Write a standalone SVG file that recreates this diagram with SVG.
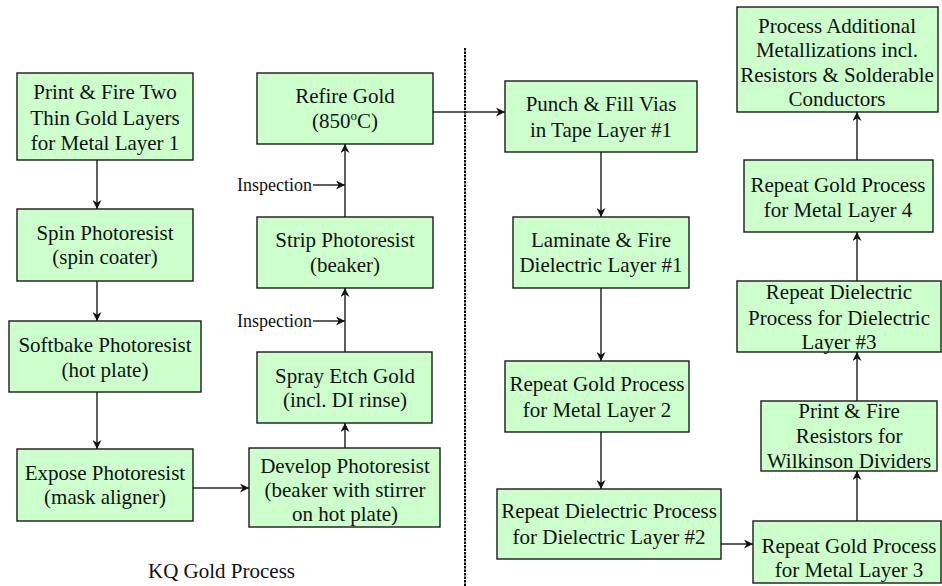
<svg xmlns="http://www.w3.org/2000/svg" width="942" height="586" viewBox="0 0 942 586">
<defs>
<style>
.box{fill:#ccffcc;stroke:#1a1a1a;stroke-width:1.4}
.t{font-family:"Liberation Serif",Tinos,"Times New Roman",Times,"Nimbus Roman","DejaVu Serif",serif;font-size:21px;fill:#111;text-anchor:middle}
.insp{font-family:"Liberation Serif",Tinos,"Times New Roman",Times,"Nimbus Roman","DejaVu Serif",serif;font-size:18px;fill:#111;text-anchor:end}
.ttl{font-family:"Liberation Serif",Tinos,"Times New Roman",Times,"Nimbus Roman","DejaVu Serif",serif;font-size:21px;fill:#111}
.c{fill:none;stroke:#2a2a2a;stroke-width:1.5}
</style>
<marker id="ah" viewBox="0 0 10 10" refX="10" refY="5" markerWidth="9" markerHeight="9" markerUnits="userSpaceOnUse" orient="auto">
<path d="M0,0 L10,5 L0,10 L3,5 z" fill="#111"/>
</marker>
</defs>
<rect width="942" height="586" fill="#fff"/>
<line x1="465" y1="48" x2="465" y2="586" stroke="#000" stroke-width="2" stroke-dasharray="2.5,1"/>
<g id="connectors">
<line class="c" x1="97" y1="160" x2="97" y2="209" marker-end="url(#ah)"/>
<line class="c" x1="97" y1="281" x2="97" y2="321" marker-end="url(#ah)"/>
<line class="c" x1="97" y1="392" x2="97" y2="449" marker-end="url(#ah)"/>
<line class="c" x1="193" y1="488" x2="249" y2="488" marker-end="url(#ah)"/>
<line class="c" x1="345" y1="448" x2="345" y2="423" marker-end="url(#ah)"/>
<line class="c" x1="345" y1="352" x2="345" y2="288" marker-end="url(#ah)"/>
<line class="c" x1="345" y1="217" x2="345" y2="144" marker-end="url(#ah)"/>
<line class="c" x1="313" y1="185" x2="345" y2="185" marker-end="url(#ah)"/>
<line class="c" x1="313" y1="321" x2="345" y2="321" marker-end="url(#ah)"/>
<line class="c" x1="433" y1="112" x2="505" y2="112" marker-end="url(#ah)"/>
<line class="c" x1="601" y1="152" x2="601" y2="217" marker-end="url(#ah)"/>
<line class="c" x1="601" y1="288" x2="601" y2="361" marker-end="url(#ah)"/>
<line class="c" x1="601" y1="432" x2="601" y2="489" marker-end="url(#ah)"/>
<line class="c" x1="721" y1="544" x2="753" y2="544" marker-end="url(#ah)"/>
<line class="c" x1="857" y1="521" x2="857" y2="471" marker-end="url(#ah)"/>
<line class="c" x1="857" y1="401" x2="857" y2="352" marker-end="url(#ah)"/>
<line class="c" x1="857" y1="281" x2="857" y2="232" marker-end="url(#ah)"/>
<line class="c" x1="857" y1="160" x2="857" y2="112" marker-end="url(#ah)"/>
</g>
<g id="insp1"><text class="insp" x="312" y="191">Inspection</text></g>
<g id="insp2"><text class="insp" x="312" y="327">Inspection</text></g>
<g id="n1"><rect class="box" x="17" y="73" width="176" height="87"/>
<text class="t" x="105" y="99">Print &amp; Fire Two</text><text class="t" x="105" y="125">Thin Gold Layers</text><text class="t" x="105" y="150">for Metal Layer 1</text></g>
<g id="n2"><rect class="box" x="17" y="209" width="176" height="72"/>
<text class="t" x="105" y="240">Spin Photoresist</text><text class="t" x="105" y="264">(spin coater)</text></g>
<g id="n3"><rect class="box" x="9" y="321" width="192" height="71"/>
<text class="t" x="105" y="352">Softbake Photoresist</text><text class="t" x="105" y="377">(hot plate)</text></g>
<g id="n4"><rect class="box" x="17" y="449" width="176" height="72"/>
<text class="t" x="105" y="480">Expose Photoresist</text><text class="t" x="105" y="504">(mask aligner)</text></g>
<g id="n5"><rect class="box" x="249" y="448" width="191" height="79"/>
<text class="t" x="345" y="473">Develop Photoresist</text><text class="t" x="345" y="497">(beaker with stirrer</text><text class="t" x="345" y="521">on hot plate)</text></g>
<g id="n6"><rect class="box" x="257" y="352" width="175" height="71"/>
<text class="t" x="345" y="383">Spray Etch Gold</text><text class="t" x="345" y="407">(incl. DI rinse)</text></g>
<g id="n7"><rect class="box" x="257" y="217" width="176" height="71"/>
<text class="t" x="345" y="247">Strip Photoresist</text><text class="t" x="345" y="272">(beaker)</text></g>
<g id="n8"><rect class="box" x="257" y="73" width="176" height="71"/>
<text class="t" x="345" y="103">Refire Gold</text><text class="t" x="345" y="128">(850<tspan font-size="13" dy="-8">o</tspan><tspan dy="8">C)</tspan></text></g>
<g id="title"><text class="ttl" x="148" y="578">KQ Gold Process</text></g>
<g id="n9"><rect class="box" x="505" y="81" width="192" height="71"/>
<text class="t" x="601" y="111">Punch &amp; Fill Vias</text><text class="t" x="601" y="137">in Tape Layer #1</text></g>
<g id="n10"><rect class="box" x="513" y="217" width="176" height="71"/>
<text class="t" x="601" y="247">Laminate &amp; Fire</text><text class="t" x="601" y="272">Dielectric Layer #1</text></g>
<g id="n11"><rect class="box" x="505" y="361" width="184" height="71"/>
<text class="t" x="597" y="391">Repeat Gold Process</text><text class="t" x="597" y="417">for Metal Layer 2</text></g>
<g id="n12"><rect class="box" x="497" y="489" width="224" height="70"/>
<text class="t" x="609" y="518">Repeat Dielectric Process</text><text class="t" x="609" y="544">for Dielectric Layer #2</text></g>
<g id="n13"><rect class="box" x="753" y="521" width="188" height="62"/>
<text class="t" x="849" y="553">Repeat Gold Process</text><text class="t" x="849" y="577">for Metal Layer 3</text></g>
<g id="n14"><rect class="box" x="761" y="401" width="176" height="70"/>
<text class="t" x="849" y="418">Print &amp; Fire</text><text class="t" x="849" y="443">Resistors for</text><text class="t" x="849" y="468">Wilkinson Dividers</text></g>
<g id="n15"><rect class="box" x="737" y="281" width="204" height="71"/>
<text class="t" x="839" y="299">Repeat Dielectric</text><text class="t" x="839" y="325">Process for Dielectric</text><text class="t" x="839" y="349">Layer #3</text></g>
<g id="n16"><rect class="box" x="744" y="160" width="189" height="72"/>
<text class="t" x="838" y="192">Repeat Gold Process</text><text class="t" x="838" y="217">for Metal Layer 4</text></g>
<g id="n17"><rect class="box" x="737" y="7" width="201" height="105"/>
<text class="t" x="837" y="33">Process Additional</text><text class="t" x="837" y="57">Metallizations incl.</text><text class="t" x="837" y="82">Resistors &amp; Solderable</text><text class="t" x="837" y="106">Conductors</text></g>
</svg>
